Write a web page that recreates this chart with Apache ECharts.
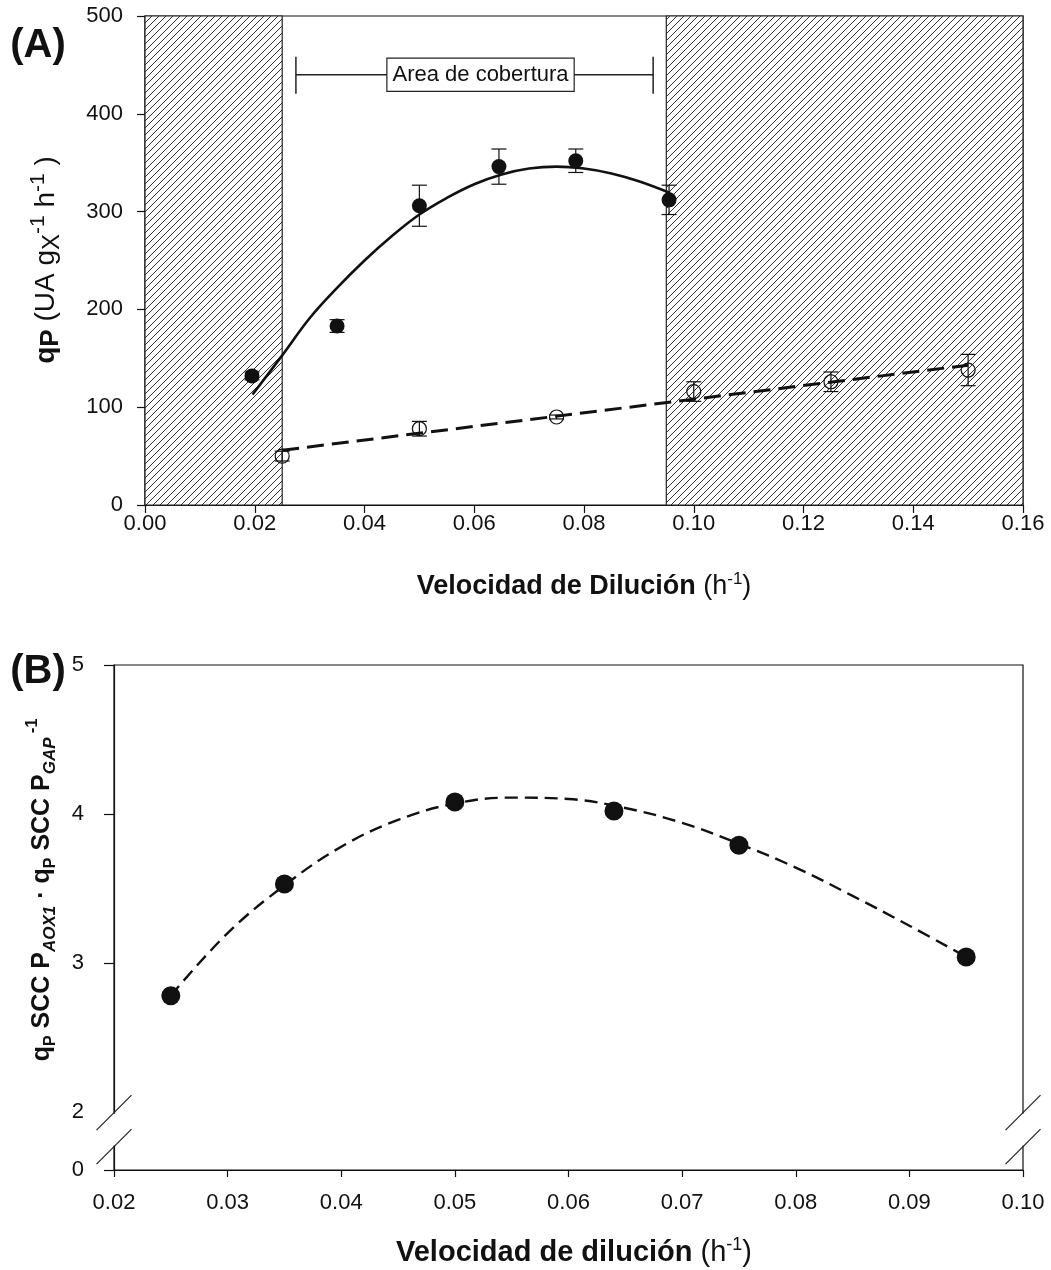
<!DOCTYPE html>
<html><head><meta charset="utf-8">
<script src="https://cdn.jsdelivr.net/npm/echarts@6/dist/echarts.min.js"></script>
<style>html,body{margin:0;padding:0;background:#fff}#c{width:1051px;height:1270px}</style>
</head><body><div id="c"></div>
<script>
// ---------- Panel A data ----------
const filledX   = [0.0195, 0.035, 0.050, 0.0645, 0.0785, 0.0955];
const filledY   = [132, 183, 306, 346, 352, 312];
const filledErr = [4, 6.5, 21, 18, 12, 15];
const openX   = [0.025, 0.050, 0.075, 0.100, 0.125, 0.150];
const openY   = [50, 78, 90, 116, 126, 138];
const openErr = [5, 7.5, 2, 10, 10, 16];
const fitAX = [0.0196, 0.025, 0.030, 0.035, 0.040, 0.045, 0.050, 0.055, 0.060, 0.065, 0.070, 0.075, 0.080, 0.085, 0.090, 0.0957];
const fitAY = [113, 153, 191, 222, 250, 275, 297, 314, 328, 338, 344, 346, 344, 339, 331, 319];
const dashAX = [0.025, 0.150];
const dashAY = [56, 143];
const hatchRanges = [[0, 0.025], [0.095, 0.16]];
const coverageX = [0.0275, 0.0926];
const coverageY = 440;
const coverageLabel = 'Area de cobertura';
const xTicksA = [0, 0.02, 0.04, 0.06, 0.08, 0.10, 0.12, 0.14, 0.16];
const yTicksA = [0, 100, 200, 300, 400, 500];
// ---------- Panel B data ----------
const bX = [0.025, 0.035, 0.050, 0.064, 0.075, 0.095];
const bY = [2.78, 3.53, 4.08, 4.02, 3.79, 3.04];
const fitBX = [0.025, 0.030, 0.035, 0.040, 0.045, 0.050, 0.055, 0.060, 0.065, 0.070, 0.075, 0.080, 0.085, 0.090, 0.095];
const fitBY = [2.78, 3.20, 3.52, 3.78, 3.96, 4.07, 4.11, 4.10, 4.04, 3.94, 3.80, 3.64, 3.45, 3.25, 3.04];
const xTicksB = [0.02, 0.03, 0.04, 0.05, 0.06, 0.07, 0.08, 0.09, 0.10];
const yAxisBMin = 1.61;               // bottom of broken axis, labelled "0"
const yTicksB = [yAxisBMin, 2, 3, 4, 5];
const yTickLabelsB = ['0', '2', '3', '4', '5'];
const breakVals = [1.995, 1.767];

const FONT = '"Liberation Sans", Arial, sans-serif';
const INK = '#111';

// hatch pattern
const pc = document.createElement('canvas');
pc.width = 7; pc.height = 7;
const g = pc.getContext('2d');
g.fillStyle = '#fff'; g.fillRect(0, 0, 7, 7);
g.strokeStyle = '#333'; g.lineWidth = 1;
g.beginPath();
g.moveTo(-1, 8); g.lineTo(8, -1);
g.moveTo(-1, 1); g.lineTo(1, -1);
g.moveTo(6, 8); g.lineTo(8, 6);
g.stroke();
const hatch = { image: pc, repeat: 'repeat' };

const zip = (xs, ys) => xs.map((x, i) => [x, ys[i]]);
const errData = (xs, ys, es) => xs.map((x, i) => [x, ys[i] - es[i], ys[i] + es[i]]);

function errRender(params, api) {
  const x = api.value(0), lo = api.value(1), hi = api.value(2);
  const a = api.coord([x, hi]), b = api.coord([x, lo]);
  const w = 7.5;
  const st = { stroke: INK, lineWidth: 1.2 };
  return { type: 'group', children: [
    { type: 'line', shape: { x1: a[0], y1: a[1], x2: b[0], y2: b[1] }, style: st },
    { type: 'line', shape: { x1: a[0] - w, y1: a[1], x2: a[0] + w, y2: a[1] }, style: st },
    { type: 'line', shape: { x1: b[0] - w, y1: b[1], x2: b[0] + w, y2: b[1] }, style: st }
  ]};
}

function coverRender(params, api) {
  const x1 = api.value(0), x2 = api.value(1), y = api.value(2);
  const p1 = api.coord([x1, y]), p2 = api.coord([x2, y]);
  const st = { stroke: '#222', lineWidth: 1.5 };
  return { type: 'group', children: [
    { type: 'line', shape: { x1: p1[0], y1: p1[1], x2: p2[0], y2: p2[1] }, style: st },
    { type: 'line', shape: { x1: p1[0], y1: p1[1] - 18, x2: p1[0], y2: p1[1] + 19 }, style: st },
    { type: 'line', shape: { x1: p2[0], y1: p2[1] - 18, x2: p2[0], y2: p2[1] + 19 }, style: st },
    { type: 'text', x: (p1[0] + p2[0]) / 2 + 6, y: p1[1], style: {
      text: coverageLabel, fontSize: 22, fontFamily: FONT, fill: '#111',
      align: 'center', verticalAlign: 'middle',
      backgroundColor: '#fff', borderColor: '#222', borderWidth: 1.2,
      padding: [4, 5, 3, 5], lineHeight: 25 } }
  ]};
}

const axisCommon = {
  axisLine: { show: true, lineStyle: { color: INK, width: 1.2 } },
  axisTick: { show: true, inside: false, lineStyle: { color: INK, width: 1.2 } },
  splitLine: { show: false },
  axisLabel: { color: '#111', fontSize: 22, fontFamily: FONT }
};

const option = {
  animation: false,
  backgroundColor: '#fff',
  grid: [
    { left: 145, top: 16, width: 878, height: 489, show: true, borderColor: INK, borderWidth: 1.2, backgroundColor: 'transparent' },
    { left: 114, top: 665, width: 909, height: 505, show: true, borderColor: INK, borderWidth: 1.2, backgroundColor: 'transparent' }
  ],
  xAxis: [
    Object.assign({}, axisCommon, { gridIndex: 0, type: 'value', min: xTicksA[0], max: xTicksA[xTicksA.length - 1], interval: 0.02,
      axisTick: Object.assign({}, axisCommon.axisTick, { length: 8 }),
      axisLabel: Object.assign({}, axisCommon.axisLabel, { margin: 8, formatter: v => v.toFixed(2) }) }),
    Object.assign({}, axisCommon, { gridIndex: 1, type: 'value', min: xTicksB[0], max: xTicksB[xTicksB.length - 1], interval: 0.01,
      axisTick: Object.assign({}, axisCommon.axisTick, { length: 7 }),
      axisLabel: Object.assign({}, axisCommon.axisLabel, { margin: 22, formatter: v => v.toFixed(2) }) })
  ],
  yAxis: [
    Object.assign({}, axisCommon, { gridIndex: 0, type: 'value', min: yTicksA[0], max: yTicksA[yTicksA.length - 1], interval: 100,
      axisTick: Object.assign({}, axisCommon.axisTick, { length: 8 }),
      axisLabel: Object.assign({}, axisCommon.axisLabel, { margin: 22 }) }),
    Object.assign({}, axisCommon, { gridIndex: 1, type: 'value', min: yAxisBMin, max: 5,
      axisTick: Object.assign({}, axisCommon.axisTick, { length: 10, customValues: [yAxisBMin, 3, 4, 5] }),
      axisLabel: Object.assign({}, axisCommon.axisLabel, { margin: 30, customValues: yTicksB,
        formatter: v => { const i = yTicksB.findIndex(t => Math.abs(t - v) < 1e-6); return i >= 0 ? yTickLabelsB[i] : ''; } }) })
  ],
  series: [
    { type: 'line', xAxisIndex: 0, yAxisIndex: 0, data: [], silent: true,
      markArea: { silent: true, itemStyle: { color: hatch, borderColor: '#222', borderWidth: 1.2 },
        data: hatchRanges.map(r => [{ xAxis: r[0], yAxis: yTicksA[0] }, { xAxis: r[1], yAxis: yTicksA[yTicksA.length - 1] }]) } },
    { type: 'line', xAxisIndex: 0, yAxisIndex: 0, data: zip(fitAX, fitAY), smooth: 0.4, showSymbol: false,
      lineStyle: { color: INK, width: 2.6 }, z: 3 },
    { type: 'line', xAxisIndex: 0, yAxisIndex: 0, data: zip(dashAX, dashAY), showSymbol: false,
      lineStyle: { color: INK, width: 3, type: [17, 8] }, z: 3 },
    { type: 'custom', xAxisIndex: 0, yAxisIndex: 0, renderItem: errRender, data: errData(filledX, filledY, filledErr), z: 4 },
    { type: 'custom', xAxisIndex: 0, yAxisIndex: 0, renderItem: errRender, data: errData(openX, openY, openErr), z: 4 },
    { type: 'scatter', xAxisIndex: 0, yAxisIndex: 0, data: zip(filledX, filledY), symbolSize: 15,
      itemStyle: { color: INK, opacity: 1 }, z: 5 },
    { type: 'scatter', xAxisIndex: 0, yAxisIndex: 0, data: zip(openX, openY), symbolSize: 14,
      itemStyle: { color: 'rgba(255,255,255,0)', borderColor: INK, borderWidth: 1.2, opacity: 1 }, z: 5 },
    { type: 'custom', xAxisIndex: 0, yAxisIndex: 0, renderItem: coverRender, data: [[coverageX[0], coverageX[1], coverageY]], z: 6 },
    { type: 'line', xAxisIndex: 1, yAxisIndex: 1, data: zip(fitBX, fitBY), smooth: 0.4, showSymbol: false,
      lineStyle: { color: INK, width: 2.4, type: [13, 7] }, z: 3 },
    { type: 'scatter', xAxisIndex: 1, yAxisIndex: 1, data: zip(bX, bY), symbolSize: 19,
      itemStyle: { color: INK, opacity: 1 }, z: 5 }
  ],
  graphic: [
    { type: 'text', x: 38, y: 46, style: { text: '(A)', fontSize: 40, fontWeight: 'bold', fontFamily: FONT, fill: '#111', align: 'center', verticalAlign: 'middle' } },
    { type: 'text', x: 38, y: 672, style: { text: '(B)', fontSize: 40, fontWeight: 'bold', fontFamily: FONT, fill: '#111', align: 'center', verticalAlign: 'middle' } },
    { type: 'text', x: 46, y: 260, rotation: Math.PI / 2, style: {
      text: '{b|q}{bs|P}{n| (UA g}{sub|X}{sup|-1}{n| h}{sup|-1}{n| )}',
      align: 'center', verticalAlign: 'middle', fill: '#111',
      rich: {
        b: { fontSize: 28, fontWeight: 'bold', fontFamily: FONT, lineHeight: 36 },
        bs: { fontSize: 26, fontWeight: 'bold', fontFamily: FONT, lineHeight: 32, verticalAlign: 'bottom' },
        n: { fontSize: 28, fontFamily: FONT, lineHeight: 36 },
        sub: { fontSize: 24, fontFamily: FONT, lineHeight: 28, verticalAlign: 'bottom' },
        sup: { fontSize: 21, fontFamily: FONT, lineHeight: 14, verticalAlign: 'top' }
      } } },
    { type: 'text', x: 42, y: 890, rotation: Math.PI / 2, style: {
      text: '{b|q}{bs|P}{b| SCC P}{bi|AOX1}{b| · q}{bs|P}{b| SCC P}{bi|GAP}{bsup| -1}',
      align: 'center', verticalAlign: 'middle', fill: '#111',
      rich: {
        b: { fontSize: 25, fontWeight: 'bold', fontFamily: FONT, lineHeight: 34 },
        bs: { fontSize: 16, fontWeight: 'bold', fontFamily: FONT, lineHeight: 17, verticalAlign: 'bottom' },
        bi: { fontSize: 17, fontWeight: 'bold', fontStyle: 'italic', fontFamily: FONT, lineHeight: 17, verticalAlign: 'bottom' },
        bsup: { fontSize: 16, fontWeight: 'bold', fontFamily: FONT, lineHeight: 15, verticalAlign: 'top' }
      } } },
    { type: 'text', x: 584, y: 587, style: {
      text: '{b|Velocidad de Dilución}{n| (h}{sup|-1}{n|)}', align: 'center', verticalAlign: 'middle', fill: '#111',
      rich: {
        b: { fontSize: 27, fontWeight: 'bold', fontFamily: FONT, lineHeight: 32 },
        n: { fontSize: 27, fontFamily: FONT, lineHeight: 32 },
        sup: { fontSize: 17, fontFamily: FONT, lineHeight: 17, verticalAlign: 'top' }
      } } },
    { type: 'text', x: 574, y: 1253, style: {
      text: '{b|Velocidad de dilución}{n| (h}{sup|-1}{n|)}', align: 'center', verticalAlign: 'middle', fill: '#111',
      rich: {
        b: { fontSize: 29, fontWeight: 'bold', fontFamily: FONT, lineHeight: 34 },
        n: { fontSize: 29, fontFamily: FONT, lineHeight: 34 },
        sup: { fontSize: 18, fontFamily: FONT, lineHeight: 18, verticalAlign: 'top' }
      } } }
  ]
};

const chart = echarts.init(document.getElementById('c'), null, { renderer: 'canvas' });
chart.setOption(option);

// axis-break decorations on panel B (left and right frame edges)
const extra = [];
[xTicksB[0], xTicksB[xTicksB.length - 1]].forEach(xv => {
  const p1 = chart.convertToPixel({ gridIndex: 1 }, [xv, breakVals[0]]);
  const p2 = chart.convertToPixel({ gridIndex: 1 }, [xv, breakVals[1]]);
  extra.push({ type: 'rect', z: 100, shape: { x: p1[0] - 3, y: p1[1] + 1, width: 6, height: p2[1] - p1[1] - 2 }, style: { fill: '#fff' } });
  [p1, p2].forEach(p => {
    extra.push({ type: 'line', z: 101, shape: { x1: p[0] - 17.5, y1: p[1] + 17.5, x2: p[0] + 17.5, y2: p[1] - 17.5 }, style: { stroke: '#222', lineWidth: 1.3 } });
  });
});
chart.setOption({ graphic: option.graphic.concat(extra) });
</script>
</body></html>
